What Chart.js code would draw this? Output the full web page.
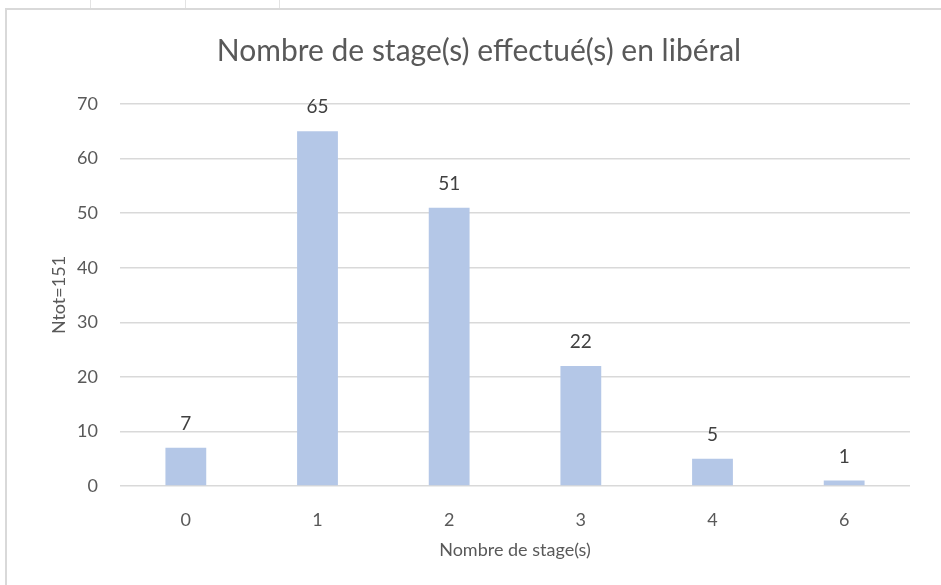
<!DOCTYPE html>
<html>
<head>
<meta charset="utf-8">
<script src="https://cdn.jsdelivr.net/npm/chart.js@4/dist/chart.umd.min.js"></script>
<style>
  html, body { margin: 0; padding: 0; background: #fff; }
  #wrap { position: relative; width: 941px; height: 585px; overflow: hidden; }
  #frame { position: absolute; left: 5px; top: 8px; right: -10px; bottom: -10px;
           border-left: 2px solid #d9d9d9; border-top: 2px solid #d9d9d9; }
  .cell { position: absolute; top: 0; width: 1px; height: 8px; background: #e3e3e3; }
  canvas { position: absolute; left: 0; top: 0; }
</style>
</head>
<body>
<div id="wrap">
  <div id="frame"></div>
  <div class="cell" style="left:90px"></div>
  <div class="cell" style="left:185px"></div>
  <div class="cell" style="left:279px"></div>
  <canvas id="c" width="941" height="585"></canvas>
</div>
<script>
const categories = ['0', '1', '2', '3', '4', '6'];
const counts = [7, 65, 51, 22, 5, 1];
const yTicks = [0, 10, 20, 30, 40, 50, 60, 70];
const titleText = 'Nombre de stage(s) effectué(s) en libéral';
const xTitle = 'Nombre de stage(s)';
const yTitle = 'Ntot=151';

const FONT = 'Lato, "Open Sans", sans-serif';

const valueLabels = {
  id: 'valueLabels',
  afterDatasetsDraw(chart) {
    const ctx = chart.ctx;
    const meta = chart.getDatasetMeta(0);
    ctx.save();
    ctx.font = '19px ' + FONT;
    ctx.fillStyle = '#404040';
    ctx.textAlign = 'center';
    ctx.textBaseline = 'middle';
    meta.data.forEach((bar, i) => {
      ctx.fillText(String(chart.data.datasets[0].data[i]), bar.x, bar.y - 24);
    });
    ctx.restore();
  }
};

new Chart(document.getElementById('c'), {
  type: 'bar',
  data: {
    labels: categories,
    datasets: [{
      data: counts,
      backgroundColor: '#b4c7e7',
      borderWidth: 0,
      categoryPercentage: 0.62,
      barPercentage: 0.5
    }]
  },
  options: {
    responsive: false,
    animation: false,
    layout: { padding: { left: 48, right: 31, top: 33, bottom: 24 } },
    plugins: {
      legend: { display: false },
      tooltip: { enabled: false },
      title: {
        display: true,
        text: titleText,
        color: '#595959',
        font: { family: FONT, size: 30, weight: 'normal' },
        padding: { top: 0, bottom: 35 }
      }
    },
    scales: {
      x: {
        afterFit(scale) { scale.height = 75; },
        grid: { display: false, drawTicks: false },
        border: { display: false },
        ticks: { color: '#595959', font: { family: FONT, size: 18 }, padding: 23 },
        title: { display: true, text: xTitle, color: '#595959',
                 font: { family: FONT, size: 18 }, padding: { top: 0, bottom: 0 } }
      },
      y: {
        min: 0, max: 70,
        afterBuildTicks(scale) { scale.ticks = yTicks.map(v => ({ value: v })); },
        afterFit(scale) { scale.width = 72; },
        grid: { color: '#d9d9d9', lineWidth: 1.5, drawTicks: false },
        border: { display: false },
        ticks: { color: '#595959', font: { family: FONT, size: 18 }, padding: 22 },
        title: { display: true, text: yTitle, color: '#595959',
                 font: { family: FONT, size: 18 }, padding: { top: 0, bottom: 0 } }
      }
    }
  },
  plugins: [valueLabels]
});
</script>
</body>
</html>
